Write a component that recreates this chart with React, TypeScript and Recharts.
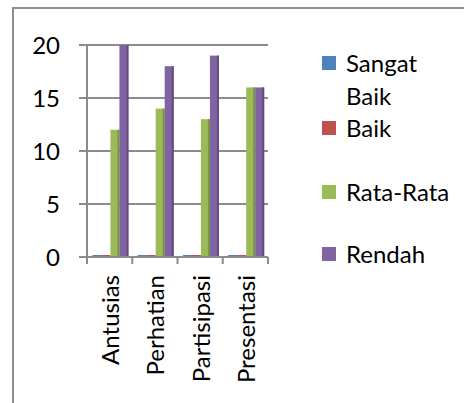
import React from 'react';
import { BarChart, Bar, XAxis, YAxis, CartesianGrid } from 'recharts';

const categories = ['Antusias', 'Perhatian', 'Partisipasi', 'Presentasi'];
const sangatBaik = [0, 0, 0, 0];
const baik = [0, 0, 0, 0];
const rataRata = [12, 14, 13, 16];
const rendah = [20, 18, 19, 16];
const yTicks = [0, 5, 10, 15, 20];

const seriesNames = ['Sangat Baik', 'Baik', 'Rata-Rata', 'Rendah'];
const seriesKeys = ['sangatBaik', 'baik', 'rataRata', 'rendah'];
const seriesColors = ['#4F81BD', '#C0504D', '#9BBB59', '#8064A2'];
const seriesSides = ['#3A6594', '#983C3A', '#7A9447', '#634C80'];

const data = categories.map((name, i) => ({
  name,
  sangatBaik: sangatBaik[i],
  baik: baik[i],
  rataRata: rataRata[i],
  rendah: rendah[i],
}));

const FONT = 'Lato, Carlito, Calibri, sans-serif';
const GRID = '#8c8c8c';

const makeShape = (fill: string, side: string) => (props: any) => {
  const { x, y, width, height } = props;
  if (!(height > 2)) {
    return <rect x={x} y={y + height - 2} width={width} height={2} fill={fill} />;
  }
  return (
    <g>
      <rect x={x} y={y} width={width} height={height} fill={fill} />
      <rect x={x + width - 2} y={y} width={2} height={height} fill={side} />
    </g>
  );
};

const XTick = (props: any) => {
  const { x, y, payload, index } = props;
  const half = payload.offset || 0;
  const axisY = y - 8;
  return (
    <g>
      <line x1={x - half} x2={x - half} y1={axisY} y2={axisY + 7} stroke={GRID} strokeWidth={2} />
      {index === categories.length - 1 ? (
        <line x1={x + half} x2={x + half} y1={axisY} y2={axisY + 7} stroke={GRID} strokeWidth={2} />
      ) : null}
      <text
        x={0}
        y={0}
        transform={`translate(${x + 1},${y + 10}) rotate(-90)`}
        textAnchor="end"
        dy="0.35em"
        fontSize={24}
        fontFamily={FONT}
        fill="#000"
      >
        {payload.value}
      </text>
    </g>
  );
};

const legendRows = [
  { lines: ['Sangat', 'Baik'], top: 50 },
  { lines: ['Baik'], top: 115 },
  { lines: ['Rata-Rata'], top: 179 },
  { lines: ['Rendah'], top: 241 },
];

export default function App() {
  return (
    <div style={{ position: 'fixed', left: 0, top: 0, width: 464, height: 403, overflow: 'hidden', background: '#fff' }}>
      <div
        style={{
          position: 'absolute',
          left: 12,
          top: 7,
          width: 480,
          height: 420,
          border: '2px solid #8f8f8f',
          boxSizing: 'border-box',
        }}
      />
      <div style={{ position: 'absolute', left: 0, top: 0 }}>
        <BarChart
          width={464}
          height={403}
          data={data}
          margin={{ top: 45, right: 196, bottom: 0, left: 0 }}
          barCategoryGap="12%"
          barGap={0}
        >
          <CartesianGrid horizontal vertical={false} stroke={GRID} strokeWidth={2} />
          <XAxis
            dataKey="name"
            height={146}
            axisLine={{ stroke: GRID, strokeWidth: 2 }}
            tickLine={false}
            tick={<XTick />}
            interval={0}
          />
          <YAxis
            width={87}
            domain={[0, 20]}
            ticks={yTicks}
            axisLine={{ stroke: GRID, strokeWidth: 2 }}
            tickLine={{ stroke: GRID, strokeWidth: 2 }}
            tickSize={8}
            tickMargin={19}
            tick={{ fontSize: 24, fontFamily: FONT, fill: '#000' }}
          />
          {seriesKeys.map((k, i) => (
            <Bar
              key={k}
              dataKey={k}
              name={seriesNames[i]}
              fill={seriesColors[i]}
              minPointSize={2}
              isAnimationActive={false}
              shape={makeShape(seriesColors[i], seriesSides[i])}
            />
          ))}
        </BarChart>
      </div>
      {legendRows.map((row, i) => (
        <div key={i} style={{ position: 'absolute', left: 322, top: row.top, fontFamily: FONT, fontSize: 24, color: '#000' }}>
          <div style={{ position: 'absolute', left: 0, top: 6, width: 14, height: 14, background: seriesColors[i] }} />
          {row.lines.map((ln, j) => (
            <div key={j} style={{ position: 'absolute', left: 24, top: j * 33, whiteSpace: 'nowrap', lineHeight: '26px' }}>
              {ln}
            </div>
          ))}
        </div>
      ))}
    </div>
  );
}
